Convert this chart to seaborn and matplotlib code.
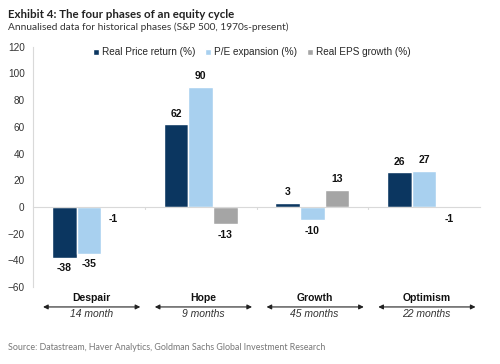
import numpy as np
import pandas as pd
import matplotlib
matplotlib.use("Agg")
import matplotlib.pyplot as plt
import seaborn as sns

phases = ["Despair", "Hope", "Growth", "Optimism"]
durations = ["14 month", "9 months", "45 months", "22 months"]
series = ["Real Price return (%)", "P/E expansion (%)", "Real EPS growth (%)"]
price_return = [-38, 62, 3, 26]
pe_expansion = [-35, 90, -10, 27]
eps_growth = [-1, -13, 13, -1]
colors = ["#0b3660", "#a8d0ef", "#a5a5a5"]

df = pd.DataFrame({
    "phase": phases * 3,
    "series": [s for s in series for _ in phases],
    "value": price_return + pe_expansion + eps_growth,
})

sns.set_style("white")
plt.rcParams["font.family"] = ["Liberation Sans", "DejaVu Sans"]

fig = plt.figure(figsize=(5, 3.64), dpi=100)
ax = fig.add_axes([0.066, 0.2115, 0.894, 0.66])

sns.barplot(data=df, x="phase", y="value", hue="series", palette=colors,
            width=0.66, saturation=1, ax=ax, legend=True)

ax.set_ylim(-60, 120)
ax.set_yticks(np.arange(-60, 121, 20))
ax.tick_params(axis="y", labelsize=7.2, colors="#333333", length=0, pad=6)
ax.set_xlabel("")
ax.set_ylabel("")
ax.set_xticks([])
ax.set_xlim(-0.5, 3.5)

for s in ["top", "right"]:
    ax.spines[s].set_visible(False)
ax.spines["left"].set_color("#d9d9d9")
ax.spines["left"].set_linewidth(0.8)
ax.spines["bottom"].set_position(("data", 0))
ax.spines["bottom"].set_color("#d9d9d9")
ax.spines["bottom"].set_linewidth(0.8)
for b in [0.5, 1.5, 2.5]:
    ax.plot([b, b], [0, -1.5], color="#d9d9d9", lw=0.8)

for cont in ax.containers:
    labels = [f"{v:.0f}" for v in cont.datavalues]
    ax.bar_label(cont, labels=labels, padding=4, fontsize=7.5,
                 fontweight="bold", color="#111111")

leg = ax.legend(loc="upper center", bbox_to_anchor=(0.49, 1.035), ncol=3,
                frameon=False, fontsize=7.2, handlelength=0.6, handleheight=0.6,
                handletextpad=0.3, columnspacing=1.0)

trans = ax.get_xaxis_transform()
for i, (p, d) in enumerate(zip(phases, durations)):
    ax.text(i + 0.02, -0.046, p, transform=trans, ha="center", va="center",
            fontsize=7.5, fontweight="bold", color="#111111", clip_on=False)
    ax.annotate("", xy=(i - 0.41, -0.083), xytext=(i + 0.46, -0.083),
                xycoords=trans, textcoords=trans,
                arrowprops=dict(arrowstyle="<|-|>", color="#222222", lw=0.8,
                                mutation_scale=7, shrinkA=0, shrinkB=0),
                annotation_clip=False)
    ax.text(i + 0.02, -0.113, d, transform=trans, ha="center", va="center",
            fontsize=7.5, fontstyle="italic", color="#333333", clip_on=False)

fig.text(0.016, 0.975, "Exhibit 4: The four phases of an equity cycle",
         fontsize=8.3, fontweight="bold", color="#222222", va="top",
         family=["Lato", "DejaVu Sans"])
fig.text(0.016, 0.938, "Annualised data for historical phases (S&P 500, 1970s-present)",
         fontsize=7.3, color="#333333", va="top", family=["Lato", "DejaVu Sans"])
fig.text(0.016, 0.045, "Source: Datastream, Haver Analytics, Goldman Sachs Global Investment Research",
         fontsize=6.4, color="#777777", va="center", family=["Lato", "DejaVu Sans"])

fig.savefig("out.png", dpi=100)
